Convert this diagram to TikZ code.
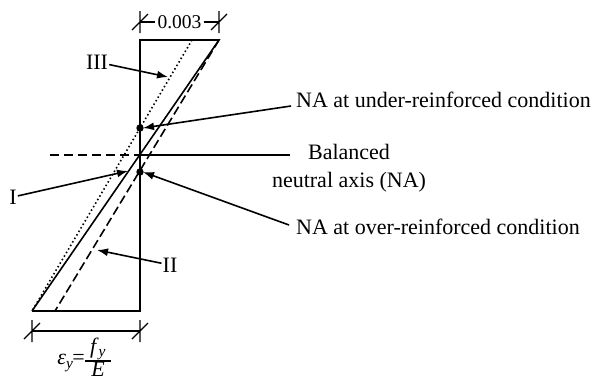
\documentclass[tikz,border=0pt]{standalone}
\usepackage{fontspec}
\setmainfont{Liberation Serif}
\usetikzlibrary{arrows.meta, positioning, calc}

\begin{document}
\begin{tikzpicture}[x=1pt, y=-1pt, >={Latex[length=11pt,width=8pt]},
  lbl/.style={font=\fontsize{22}{28}\selectfont, inner sep=1pt},
  ln/.style={line width=1.6pt},
  tick/.style={line width=1.3pt}]
\useasboundingbox (0,0) rectangle (594,378);
% strain diagram
\coordinate (tl) at (140,40);
\coordinate (tr) at (219,40);
\coordinate (bl) at (32,311);
\coordinate (br) at (140,311);
\coordinate (t3) at (192,40);
\coordinate (b2) at (55,311);
\draw[ln] (bl) -- (br) -- (tl) -- (tr) -- (bl);
\draw[ln, dash pattern=on 9pt off 4pt] (tr) -- (b2);
\draw[ln, dash pattern=on 1.5pt off 2.6pt] (t3) -- (bl);
% neutral axes
\coordinate (na0) at (50,155);
\coordinate (na) at (140,155);
\coordinate (nae) at (290,155);
\draw[ln, dash pattern=on 9pt off 5pt] (na0) -- (na);
\draw[ln] (na) -- (nae);
\coordinate (dotU) at (140,128);
\coordinate (dotO) at (140,172);
\fill (dotU) circle (3.7pt);
\fill (dotO) circle (3.7pt);
% labels
\node[lbl] (III) at (97,62) {III};
\node[lbl] (I) at (13,197) {I};
\node[lbl] (II) at (170,265) {II};
\node[lbl, anchor=west] (under) at (295,100) {NA at under-reinforced condition};
\node[lbl, align=center] (bal) at (349,168) {Balanced\\neutral axis (NA)};
\node[lbl, anchor=west] (over) at (295,227) {NA at over-reinforced condition};
\coordinate (c3) at (168,77);
\coordinate (c1) at (128,171);
\coordinate (c2) at (97,250);
\draw[->, ln] (III) -- (c3);
\draw[->, ln] (I) -- (c1);
\draw[->, ln] (II) -- (c2);
\draw[->, ln] ([shift={(-4,6)}]under.west) -- ([xshift=3pt]dotU);
\draw[->, ln] ([shift={(-6,-2)}]over.west) -- ([xshift=3pt]dotO);
% dimensions
\coordinate (d1) at (140,22);
\coordinate (d2) at (219,22);
\coordinate (e1) at (32,331);
\coordinate (e2) at (140,331);
\node[lbl, font=\fontsize{19.5}{24}\selectfont, inner sep=2pt] (top) at ($(d1)!0.5!(d2)$) {0.003};
\draw[tick] (d1) -- (top.west) (top.east) -- (d2);
\draw[tick] (e1) -- (e2);
\foreach \p in {d1,d2,e1,e2}
  \draw[tick] ($(\p)+(0,-11)$) -- ($(\p)+(0,11)$)
              ($(\p)+(-8,8)$) -- ($(\p)+(8,-8)$);
% yield strain label
\coordinate (fl) at (85,361);
\coordinate (fr) at (111,361);
\node[lbl, anchor=east, inner sep=0pt] (epsl) at ([yshift=-2pt]fl) {\textit{ε}\textsubscript{\textit{y}}\kern-1pt=};
\node[lbl, anchor=south, inner sep=0.5pt] (fnum) at ($(fl)!0.5!(fr)$) {\textit{f}\textsubscript{\textit{y}}};
\node[lbl, anchor=north, inner sep=1pt] (fden) at ($(fl)!0.5!(fr)$) {\textit{E}};
\draw[tick] (fl) -- (fr);
\end{tikzpicture}
\end{document}
